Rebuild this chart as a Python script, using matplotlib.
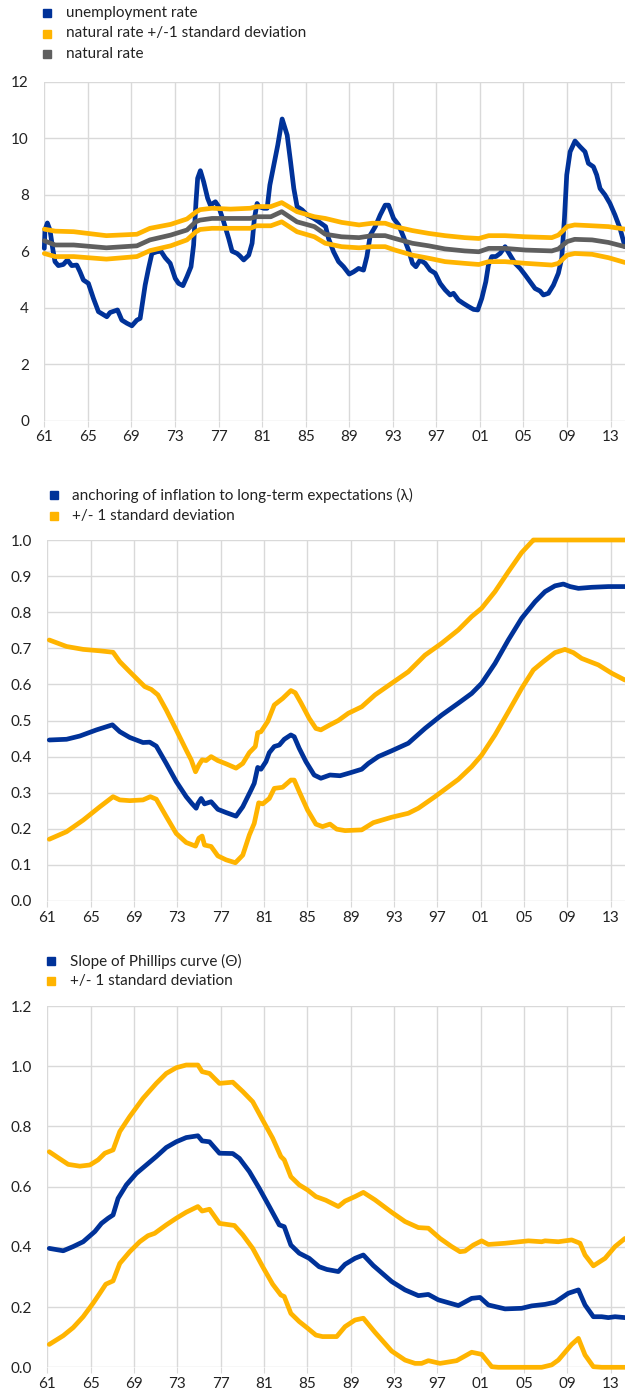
import numpy as np
import matplotlib.pyplot as plt
from matplotlib.lines import Line2D

plt.rcParams['font.family'] = ['Lato', 'DejaVu Sans']

BLUE = '#003299'
YELLOW = '#FFB400'
GREY = '#5f5f5f'
GRID = '#d9d9d9'

# ---- panel 1: unemployment and natural rate (%) ----
u_years = [1961.00, 1961.06, 1961.28, 1961.52, 1961.77, 1961.98, 1962.29, 1962.75, 1963.12, 1963.52,
           1963.98, 1964.28, 1964.59, 1965.05, 1965.51, 1965.97, 1966.74, 1967.04, 1967.72, 1968.12,
           1968.58, 1969.04, 1969.50, 1969.80, 1970.26, 1970.57, 1970.88, 1971.34, 1971.71, 1972.10,
           1972.56, 1973.02, 1973.33, 1973.73, 1974.10, 1974.47, 1974.71, 1974.93, 1975.08, 1975.33,
           1975.63, 1976.00, 1976.25, 1976.71, 1977.01, 1977.47, 1977.93, 1978.24, 1978.70, 1978.94,
           1979.31, 1979.77, 1980.08, 1980.29, 1980.54, 1980.69, 1981.15, 1981.46, 1981.71, 1982.07,
           1982.44, 1982.84, 1983.30, 1983.61, 1983.91, 1984.21, 1984.68, 1985.14, 1985.75, 1986.21,
           1986.83, 1987.10, 1987.56, 1988.02, 1988.48, 1989.00, 1989.40, 1989.86, 1990.31, 1990.62,
           1990.93, 1991.39, 1991.84, 1992.30, 1992.61, 1993.07, 1993.53, 1993.98, 1994.44, 1994.81,
           1995.12, 1995.51, 1995.97, 1996.43, 1996.89, 1997.35, 1997.81, 1998.27, 1998.57, 1999.03,
           1999.49, 1999.95, 2000.41, 2000.80, 2001.17, 2001.54, 2001.78, 2002.09, 2002.46, 2002.85,
           2003.31, 2003.77, 2004.23, 2004.69, 2005.15, 2005.61, 2006.06, 2006.52, 2006.83, 2007.29,
           2007.75, 2008.20, 2008.51, 2008.76, 2008.97, 2009.28, 2009.73, 2010.19, 2010.65, 2010.96,
           2011.42, 2011.72, 2012.03, 2012.49, 2012.94, 2013.40, 2013.86, 2014.32]
unemployment = [6.10, 6.75, 7.00, 6.75, 6.10, 5.63, 5.49, 5.53, 5.69, 5.49,
                5.51, 5.27, 4.98, 4.86, 4.33, 3.86, 3.68, 3.83, 3.92, 3.56,
                3.45, 3.36, 3.56, 3.62, 4.80, 5.39, 5.92, 5.98, 6.00, 5.77,
                5.57, 5.04, 4.86, 4.78, 5.10, 5.45, 6.22, 7.75, 8.58, 8.85,
                8.46, 7.87, 7.63, 7.75, 7.58, 7.04, 6.45, 6.00, 5.92, 5.84,
                5.69, 5.86, 6.28, 7.16, 7.69, 7.58, 7.52, 7.52, 8.34, 9.05,
                9.76, 10.68, 10.11, 9.17, 8.22, 7.58, 7.46, 7.28, 7.16, 7.04,
                6.87, 6.45, 5.98, 5.63, 5.45, 5.19, 5.27, 5.39, 5.33, 5.81,
                6.57, 6.87, 7.28, 7.63, 7.63, 7.16, 6.93, 6.51, 6.04, 5.57,
                5.45, 5.69, 5.57, 5.33, 5.22, 4.86, 4.63, 4.45, 4.51, 4.27,
                4.15, 4.04, 3.94, 3.92, 4.33, 4.92, 5.51, 5.81, 5.81, 5.92,
                6.16, 5.86, 5.57, 5.39, 5.16, 4.92, 4.68, 4.59, 4.45, 4.51,
                4.80, 5.22, 5.75, 7.16, 8.70, 9.52, 9.90, 9.70, 9.52, 9.11,
                8.99, 8.70, 8.22, 7.99, 7.69, 7.28, 6.81, 6.16]

n_years = [1961.0, 1962.0, 1963.7, 1966.7, 1969.5, 1970.7, 1972.6, 1974.1, 1974.9, 1975.3,
           1976.4, 1978.1, 1979.9, 1980.5, 1981.8, 1982.8, 1984.2, 1985.8, 1986.8, 1988.3,
           1989.9, 1991.1, 1992.3, 1993.2, 1994.8, 1996.3, 1997.8, 1999.6, 2000.9, 2001.8,
           2003.3, 2005.2, 2007.6, 2008.2, 2009.0, 2009.7, 2011.3, 2012.8, 2014.32]
natural = [6.37, 6.22, 6.22, 6.12, 6.19, 6.40, 6.57, 6.75, 7.04, 7.10,
           7.16, 7.16, 7.16, 7.22, 7.22, 7.40, 7.04, 6.87, 6.60, 6.51,
           6.48, 6.55, 6.55, 6.45, 6.28, 6.19, 6.08, 6.01, 5.98, 6.10,
           6.10, 6.04, 6.01, 6.08, 6.34, 6.42, 6.40, 6.31, 6.16]
natural_hi = [6.78, 6.71, 6.69, 6.55, 6.60, 6.81, 6.95, 7.14, 7.38, 7.47,
              7.52, 7.49, 7.52, 7.58, 7.58, 7.72, 7.40, 7.22, 7.16, 7.02,
              6.93, 6.99, 6.99, 6.87, 6.73, 6.63, 6.55, 6.48, 6.45, 6.55,
              6.55, 6.51, 6.48, 6.57, 6.87, 6.93, 6.90, 6.87, 6.78]
natural_lo = [5.92, 5.81, 5.81, 5.72, 5.81, 6.02, 6.19, 6.40, 6.68, 6.77,
              6.81, 6.81, 6.81, 6.90, 6.90, 7.04, 6.69, 6.51, 6.28, 6.16,
              6.12, 6.16, 6.16, 6.04, 5.86, 5.75, 5.63, 5.57, 5.53, 5.63,
              5.63, 5.57, 5.51, 5.57, 5.86, 5.92, 5.89, 5.77, 5.60]

# ---- panel 2: anchoring (lambda) ----
lam_years = [1961.18, 1962.78, 1964.00, 1965.54, 1967.01, 1967.69, 1968.61, 1969.83, 1970.45, 1971.06,
             1971.98, 1972.90, 1973.82, 1974.37, 1974.74, 1974.90, 1975.20, 1975.51, 1976.12, 1976.74,
             1977.50, 1978.42, 1979.04, 1979.80, 1980.10, 1980.42, 1980.72, 1981.18, 1981.49, 1981.95,
             1982.41, 1982.87, 1983.48, 1983.79, 1984.25, 1984.87, 1985.63, 1986.25, 1987.09, 1988.02,
             1988.94, 1990.02, 1990.63, 1991.55, 1992.78, 1994.32, 1995.86, 1997.40, 1998.94, 2000.17,
             2001.09, 2002.32, 2003.55, 2004.78, 2006.02, 2006.94, 2007.86, 2008.63, 2009.25, 2010.02,
             2011.25, 2012.78, 2014.32]
lam = [0.446, 0.448, 0.457, 0.474, 0.488, 0.469, 0.453, 0.439, 0.440, 0.429,
       0.381, 0.331, 0.289, 0.269, 0.257, 0.270, 0.284, 0.269, 0.275, 0.254,
       0.245, 0.235, 0.261, 0.307, 0.326, 0.370, 0.365, 0.386, 0.411, 0.428,
       0.432, 0.448, 0.460, 0.455, 0.423, 0.386, 0.349, 0.340, 0.349, 0.347,
       0.355, 0.365, 0.381, 0.400, 0.416, 0.437, 0.478, 0.515, 0.548, 0.575,
       0.603, 0.658, 0.723, 0.783, 0.829, 0.857, 0.873, 0.878, 0.871, 0.866,
       0.869, 0.871, 0.871]

lam_hi_years = [1961.18, 1962.78, 1964.31, 1965.85, 1967.07, 1967.69, 1968.61, 1969.99, 1970.60, 1971.21,
                1971.98, 1972.90, 1973.82, 1974.28, 1974.68, 1974.99, 1975.29, 1975.66, 1976.12, 1976.74,
                1977.50, 1978.42, 1979.04, 1979.65, 1980.20, 1980.42, 1980.72, 1981.34, 1981.95, 1982.72,
                1983.48, 1983.88, 1984.41, 1985.17, 1985.79, 1986.25, 1987.09, 1987.86, 1988.78, 1990.02,
                1991.25, 1992.78, 1994.32, 1995.86, 1997.40, 1998.94, 2000.17, 2001.09, 2002.32, 2003.55,
                2004.78, 2005.71, 2005.86, 2014.32]
lam_hi = [0.723, 0.705, 0.697, 0.693, 0.689, 0.663, 0.635, 0.594, 0.586, 0.571,
          0.529, 0.474, 0.418, 0.391, 0.358, 0.377, 0.391, 0.389, 0.400, 0.389,
          0.380, 0.368, 0.381, 0.411, 0.428, 0.466, 0.469, 0.497, 0.543, 0.561,
          0.583, 0.577, 0.549, 0.506, 0.478, 0.474, 0.488, 0.500, 0.520, 0.538,
          0.571, 0.603, 0.635, 0.681, 0.714, 0.751, 0.788, 0.811, 0.857, 0.912,
          0.965, 0.995, 1.000, 1.000]

lam_lo_years = [1961.18, 1962.78, 1964.31, 1965.85, 1967.07, 1967.69, 1968.61, 1969.83, 1970.51, 1971.06,
                1971.98, 1972.90, 1973.82, 1974.68, 1974.99, 1975.29, 1975.51, 1976.12, 1976.74, 1977.50,
                1978.36, 1979.04, 1979.65, 1980.10, 1980.51, 1980.88, 1981.49, 1981.95, 1982.72, 1983.48,
                1983.79, 1984.25, 1985.02, 1985.79, 1986.40, 1987.09, 1987.71, 1988.48, 1990.02, 1991.09,
                1992.78, 1994.32, 1995.25, 1996.78, 1998.94, 2000.17, 2001.09, 2002.32, 2003.55, 2004.78,
                2005.86, 2006.78, 2007.86, 2008.78, 2009.55, 2010.32, 2011.86, 2013.09, 2014.32]
lam_lo = [0.171, 0.192, 0.224, 0.261, 0.289, 0.280, 0.278, 0.280, 0.289, 0.282,
          0.234, 0.187, 0.162, 0.152, 0.174, 0.180, 0.155, 0.151, 0.125, 0.114,
          0.106, 0.127, 0.183, 0.215, 0.272, 0.269, 0.284, 0.312, 0.315, 0.335,
          0.335, 0.303, 0.252, 0.213, 0.206, 0.213, 0.199, 0.195, 0.197, 0.217,
          0.232, 0.243, 0.257, 0.289, 0.337, 0.372, 0.404, 0.460, 0.524, 0.589,
          0.640, 0.663, 0.688, 0.697, 0.688, 0.672, 0.654, 0.631, 0.612]

# ---- panel 3: slope of Phillips curve (theta) ----
th_years = [1961.18, 1962.47, 1963.39, 1964.31, 1965.39, 1966.00, 1966.61, 1967.07, 1967.53, 1968.30,
            1969.22, 1970.14, 1971.06, 1971.98, 1972.90, 1973.82, 1974.90, 1975.29, 1975.97, 1976.89,
            1978.12, 1978.73, 1979.65, 1980.57, 1981.49, 1982.41, 1982.87, 1983.48, 1984.25, 1985.17,
            1986.09, 1986.80, 1987.86, 1988.48, 1989.40, 1990.17, 1991.09, 1992.78, 1994.02, 1995.25,
            1996.17, 1997.09, 1998.94, 2000.17, 2000.94, 2001.71, 2003.25, 2004.78, 2005.71, 2006.94,
            2007.86, 2009.09, 2010.02, 2010.63, 2011.40, 2012.17, 2012.78, 2013.40, 2014.32]
theta = [0.395, 0.387, 0.401, 0.417, 0.451, 0.478, 0.495, 0.506, 0.561, 0.606,
         0.644, 0.672, 0.700, 0.730, 0.749, 0.763, 0.769, 0.752, 0.749, 0.711,
         0.710, 0.694, 0.650, 0.594, 0.534, 0.473, 0.467, 0.406, 0.379, 0.362,
         0.334, 0.325, 0.318, 0.342, 0.362, 0.373, 0.338, 0.285, 0.257, 0.238,
         0.242, 0.224, 0.205, 0.229, 0.232, 0.207, 0.194, 0.196, 0.204, 0.209,
         0.216, 0.246, 0.257, 0.207, 0.168, 0.168, 0.165, 0.168, 0.165]

th_hi_years = [1961.18, 1962.17, 1962.93, 1964.00, 1964.93, 1965.69, 1966.31, 1967.07, 1967.69, 1968.61,
               1969.83, 1971.06, 1971.98, 1972.90, 1973.82, 1974.90, 1975.29, 1975.97, 1976.89, 1978.12,
               1979.04, 1979.96, 1980.88, 1981.80, 1982.56, 1982.87, 1983.48, 1984.25, 1985.02, 1985.79,
               1986.70, 1987.86, 1988.48, 1989.40, 1990.17, 1991.25, 1992.78, 1994.02, 1995.25, 1996.17,
               1997.25, 1998.32, 1999.09, 1999.55, 2000.32, 2001.09, 2001.71, 2003.25, 2005.40, 2006.63,
               2006.94, 2008.17, 2009.40, 2010.17, 2010.63, 2011.40, 2012.48, 2013.40, 2014.32]
theta_hi = [0.716, 0.692, 0.674, 0.668, 0.672, 0.689, 0.711, 0.722, 0.783, 0.833,
            0.893, 0.943, 0.976, 0.995, 1.004, 1.004, 0.982, 0.976, 0.943, 0.947,
            0.916, 0.882, 0.821, 0.761, 0.700, 0.689, 0.633, 0.606, 0.589, 0.567,
            0.555, 0.534, 0.552, 0.567, 0.581, 0.556, 0.515, 0.484, 0.464, 0.462,
            0.428, 0.401, 0.384, 0.386, 0.406, 0.420, 0.408, 0.412, 0.420, 0.417,
            0.420, 0.417, 0.423, 0.412, 0.373, 0.337, 0.362, 0.401, 0.428]

th_lo_years = [1961.18, 1962.47, 1963.39, 1964.31, 1965.23, 1965.85, 1966.40, 1967.07, 1967.69, 1968.61,
               1969.53, 1970.29, 1970.91, 1971.98, 1972.90, 1973.82, 1974.90, 1975.29, 1975.97, 1976.89,
               1978.27, 1979.04, 1979.96, 1980.88, 1981.80, 1982.56, 1982.87, 1983.48, 1984.25, 1985.02,
               1985.79, 1986.40, 1987.71, 1988.48, 1989.40, 1990.17, 1991.25, 1992.78, 1994.02, 1994.94,
               1995.55, 1996.17, 1997.25, 1998.78, 2000.17, 2001.09, 2002.02, 2002.63, 2006.63, 2007.55,
               2008.17, 2009.40, 2010.02, 2010.63, 2011.40, 2012.17, 2014.32]
theta_lo = [0.076, 0.105, 0.132, 0.168, 0.213, 0.246, 0.276, 0.287, 0.345, 0.384,
            0.417, 0.437, 0.445, 0.473, 0.495, 0.515, 0.534, 0.519, 0.525, 0.478,
            0.471, 0.440, 0.395, 0.334, 0.276, 0.240, 0.235, 0.179, 0.152, 0.130,
            0.107, 0.102, 0.102, 0.135, 0.157, 0.163, 0.116, 0.054, 0.024, 0.013,
            0.013, 0.022, 0.013, 0.022, 0.050, 0.043, 0.002, 0.000, 0.000, 0.008,
            0.024, 0.076, 0.096, 0.041, 0.002, 0.000, 0.000]

tick_years = list(range(1961, 2014, 4))
tick_labels = ["%02d" % (y % 100) for y in tick_years]

W, H = 625, 1395
fig = plt.figure(figsize=(W / 100, H / 100), dpi=100)


def make_axes(left, top, bottom):
    # pixel box -> figure fractions
    return fig.add_axes([left / W, 1 - bottom / H, 1 - left / W, (bottom - top) / H])


def style(ax, ymax, ystep, fmt):
    ax.set_xlim(1961, 2014.32)
    ax.set_ylim(0, ymax)
    ax.set_xticks(tick_years)
    ax.set_xticklabels(tick_labels)
    yt = np.arange(0, ymax + ystep / 2, ystep)
    ax.set_yticks(yt)
    ax.set_yticklabels([fmt % v for v in yt])
    ax.grid(True, color=GRID, lw=1)
    ax.set_axisbelow(True)
    for s in ax.spines.values():
        s.set_visible(False)
    ax.tick_params(axis='x', length=4, color=GRID, pad=3, labelsize=11, labelcolor='#222222')
    ax.tick_params(axis='y', length=0, pad=11, labelsize=11, labelcolor='#222222')


def legend(entries, x_box, x_text, ys):
    for (label, color), y in zip(entries, ys):
        fig.add_artist(Line2D([x_box / W], [1 - y / H], marker='s', ms=6, color=color,
                              ls='none', transform=fig.transFigure))
        fig.text(x_text / W, 1 - y / H, label, va='center', ha='left', fontsize=11, color='#222222')


lw = 3.4
kw = dict(lw=lw, solid_joinstyle='round', solid_capstyle='round', clip_on=False)

# panel 1
ax1 = make_axes(44.3, 81.7, 420.7)
style(ax1, 12, 2, '%d')
ax1.plot(u_years, unemployment, color=BLUE, **kw)
ax1.plot(n_years, natural_hi, color=YELLOW, **kw)
ax1.plot(n_years, natural_lo, color=YELLOW, **kw)
ax1.plot(n_years, natural, color=GREY, **kw)
legend([("unemployment rate", BLUE),
        ("natural rate +/-1 standard deviation", YELLOW),
        ("natural rate", GREY)], 47, 66, [13, 33.5, 54])

# panel 2
ax2 = make_axes(47.3, 540, 901)
style(ax2, 1.0, 0.1, '%.1f')
ax2.plot(lam_hi_years, lam_hi, color=YELLOW, **kw)
ax2.plot(lam_lo_years, lam_lo, color=YELLOW, **kw)
ax2.plot(lam_years, lam, color=BLUE, **kw)
legend([("anchoring of inflation to long-term expectations (\u03bb)", BLUE),
        ("+/- 1 standard deviation", YELLOW)], 54, 72, [495, 516])

# panel 3
ax3 = make_axes(47.3, 1006, 1367.3)
style(ax3, 1.2, 0.2, '%.1f')
ax3.plot(th_hi_years, theta_hi, color=YELLOW, **kw)
ax3.plot(th_lo_years, theta_lo, color=YELLOW, **kw)
ax3.plot(th_years, theta, color=BLUE, **kw)
legend([("Slope of Phillips curve (\u0398)", BLUE),
        ("+/- 1 standard deviation", YELLOW)], 51, 70, [961, 981])

fig.savefig("out.png", dpi=100)
